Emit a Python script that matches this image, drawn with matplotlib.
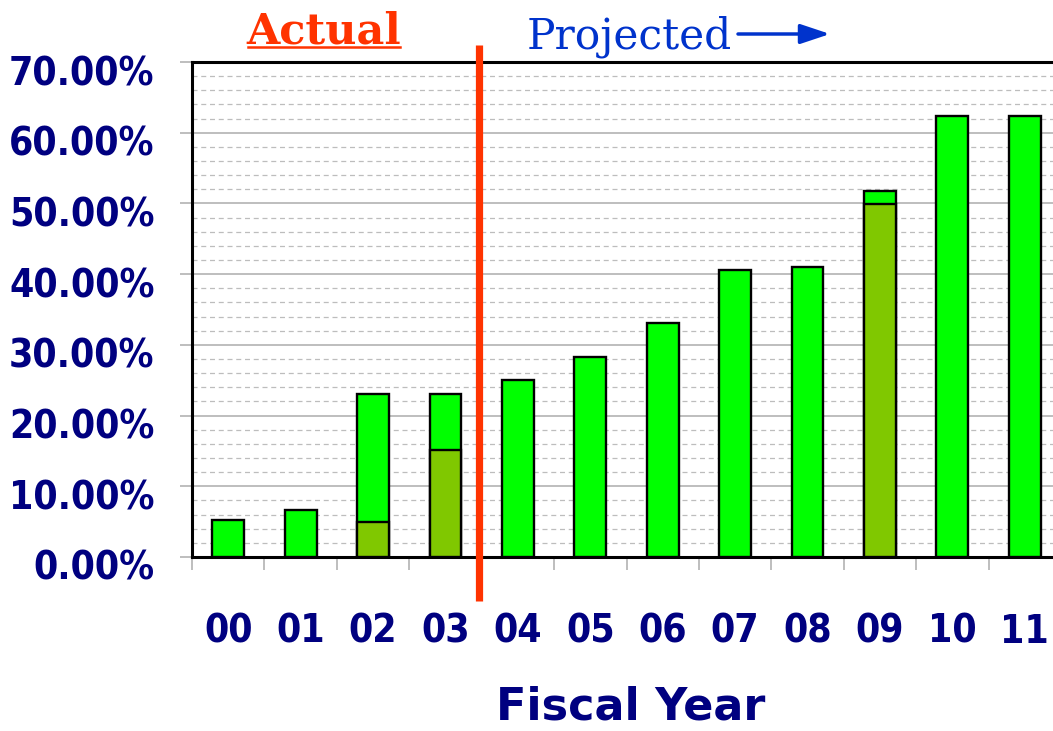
import numpy as np
import matplotlib
matplotlib.use('Agg')
import matplotlib.pyplot as plt
from matplotlib import font_manager
from matplotlib.transforms import ScaledTranslation, blended_transform_factory
from matplotlib.ticker import MultipleLocator, FixedLocator
from matplotlib.lines import Line2D
from matplotlib.patches import FancyArrowPatch

# ---- data ----
years = ['00', '01', '02', '03', '04', '05', '06', '07', '08', '09', '10', '11']
total_pct = [5.2, 6.7, 23.1, 23.1, 25.0, 28.3, 33.1, 40.6, 41.0, 51.8, 62.3, 62.3]
actual_pct = [np.nan, np.nan, 5.0, 15.1, np.nan, np.nan, np.nan, np.nan, np.nan, 49.9, np.nan, np.nan]
y_ticks = [0, 10, 20, 30, 40, 50, 60, 70]

NAVY = '#000080'
GREEN = '#00FF00'
OLIVE = '#80C800'
RED = '#FF3300'
BLUE = '#0033CC'

# condensed bold font if available
cond_name, cond_stretch = None, 'normal'
for f in font_manager.fontManager.ttflist:
    if 'DejaVu Sans' in f.name and 'Mono' not in f.name and \
       ('ondensed' in f.name or str(f.stretch) in ('condensed', 'semi-condensed', '87.5', '75')) and \
       (f.weight in ('bold', 700, '700')):
        cond_name, cond_stretch = f.name, f.stretch
        break
if cond_name:
    tick_font = dict(family=cond_name, stretch=cond_stretch, weight='bold', size=28)
else:
    tick_font = dict(family='DejaVu Sans', weight='bold', size=25)

W, H = 1053, 731
fig = plt.figure(figsize=(W / 100, H / 100), dpi=100)
ax = fig.add_axes([192 / W, 1 - 557 / H, (1061 - 192) / W, (557 - 62) / H])

x = np.arange(len(years))
ax.bar(x, total_pct, width=0.44, color=GREEN, edgecolor='black', linewidth=1.7, zorder=3)
act = np.array(actual_pct)
m = ~np.isnan(act)
ax.bar(x[m], act[m], width=0.44, color=OLIVE, edgecolor='black', linewidth=1.7, zorder=4)

ax.set_xlim(-0.5, len(years) - 0.5)
ax.set_ylim(0, 70)

ax.yaxis.set_major_locator(FixedLocator(y_ticks))
ax.yaxis.set_minor_locator(MultipleLocator(2))
ax.grid(which='major', axis='y', color='#b3b3b3', lw=1.2, zorder=0)
ax.grid(which='minor', axis='y', color='#bdbdbd', lw=0.9, ls=(0, (4, 3)), zorder=0)
ax.set_axisbelow(True)

ax.set_yticklabels([f'{v:.2f}%' for v in y_ticks], color=NAVY, **tick_font)
ax.tick_params(axis='y', which='major', length=9, width=1.2, color='#b3b3b3', pad=18)
ax.tick_params(axis='y', which='minor', length=0)

ax.set_xticks(x)
ax.set_xticklabels(years, color=NAVY, **tick_font)
ax.set_xticks(np.arange(-0.5, len(years)), minor=True)
ax.tick_params(axis='x', which='major', length=0, pad=40)
ax.tick_params(axis='x', which='minor', length=9.5, width=1.2, color='#b3b3b3')

for lab in ax.get_yticklabels():
    lab.set_transform(lab.get_transform() + ScaledTranslation(0, -8 / 100, fig.dpi_scale_trans))

for side in ['top', 'left', 'bottom']:
    ax.spines[side].set_color('black')
    ax.spines[side].set_linewidth(2.2)
ax.spines['right'].set_visible(False)

# divider between actual and projected
tr = blended_transform_factory(ax.transData, ax.transAxes)
ax.plot([3.46, 3.46], [-0.088, 1.034], transform=tr, color=RED, lw=5.2,
        clip_on=False, zorder=10, solid_capstyle='butt')

# header texts
fig.text(324 / W, 1 - 43 / H, 'Actual', family='DejaVu Serif', weight='bold',
         size=31, color=RED, ha='center', va='baseline')
fig.add_artist(Line2D([248 / W, 400 / W], [1 - 46.5 / H] * 2, color=RED, lw=1.8,
                      transform=fig.transFigure))
fig.text(527 / W, 1 - 48 / H, 'Projected', family='DejaVu Serif', size=30.5,
         color=BLUE, ha='left', va='baseline')
fig.add_artist(FancyArrowPatch((738 / W, 1 - 34 / H), (830 / W, 1 - 34 / H),
                               transform=fig.transFigure, color=BLUE, lw=2.5,
                               arrowstyle='-|>,head_length=0.9,head_width=0.3',
                               mutation_scale=20, shrinkA=0, shrinkB=0))

fig.text(631 / W, 1 - 720 / H, 'Fiscal Year', family='DejaVu Sans', weight='bold',
         size=32, color=NAVY, ha='center', va='baseline')

fig.savefig('out.png', dpi=100)
